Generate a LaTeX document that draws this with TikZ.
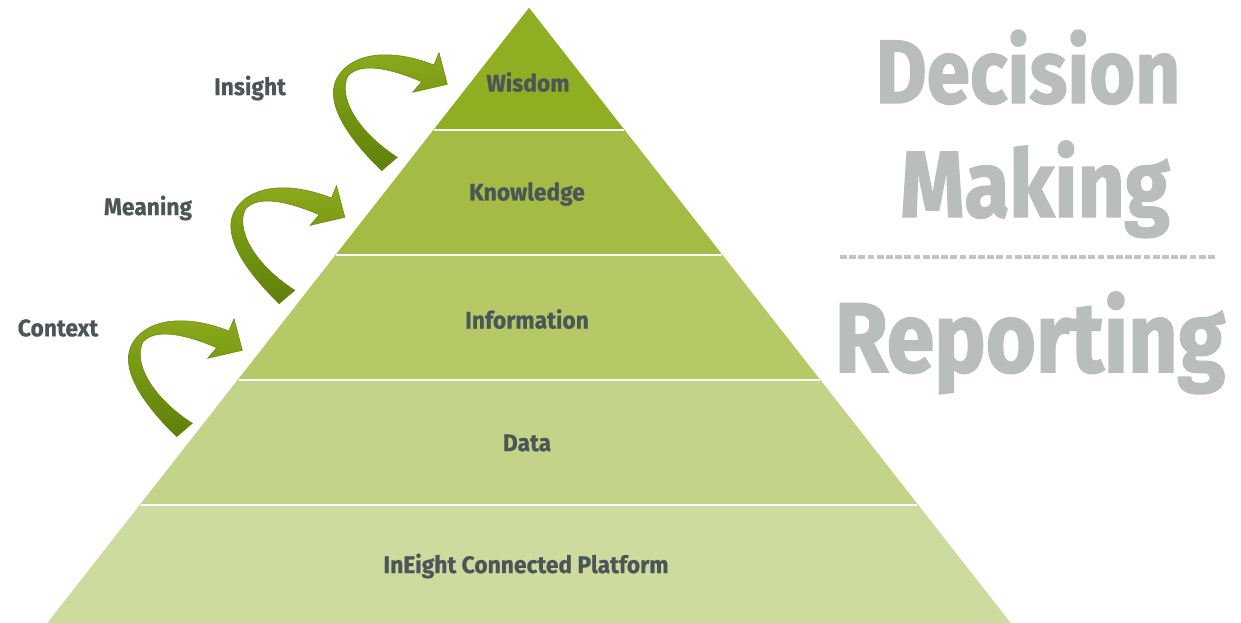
\documentclass[tikz,border=0pt]{standalone}
\usepackage{fontspec}
\setmainfont[FakeStretch=0.87]{Fira Sans}
\newfontfamily\layerfont[FakeStretch=0.95,FakeBold=0.6]{Fira Sans}
\newfontfamily\wordfont[FakeStretch=0.87,FakeBold=1.5]{Fira Sans}
\usepackage{xcolor}

\definecolor{wisdomgreen}{HTML}{8FAE21}
\definecolor{knowgreen}{HTML}{A4BC43}
\definecolor{infogreen}{HTML}{B5C967}
\definecolor{datagreen}{HTML}{C3D387}
\definecolor{basegreen}{HTML}{CEDB9F}
\definecolor{arrowlight}{HTML}{8DAC1C}
\definecolor{arrowdark}{HTML}{5F7F0B}
\definecolor{arrowedge}{HTML}{6B8A12}
\definecolor{labelgray}{HTML}{4C5557}
\definecolor{wordgray}{HTML}{B9BEBD}

\tikzset{
  band/.style={draw=white, line width=1.5pt},
  layer/.style={font=\layerfont\bfseries\fontsize{24}{24}\selectfont, text=labelgray, inner sep=0pt},
  bigword/.style={font=\wordfont\bfseries\fontsize{#1}{#1}\selectfont, text=wordgray, inner sep=0pt, anchor=base},
  turn/.style={top color=arrowlight, bottom color=arrowdark, draw=arrowedge, line width=0.6pt}
}

\begin{document}
\begin{tikzpicture}[x=1pt,y=-1pt]
        \useasboundingbox (0,0) rectangle (1241,622);
        % pyramid bands
        \fill[band,wisdomgreen] (529,9) -- (623.7,130) -- (434.3,130) -- cycle;
        \fill[band,knowgreen] (434.3,130) -- (623.7,130) -- (721.6,255) -- (336.4,255) -- cycle;
        \fill[band,infogreen] (336.4,255) -- (721.6,255) -- (819.5,380) -- (238.5,380) -- cycle;
        \fill[band,datagreen] (238.5,380) -- (819.5,380) -- (917.4,505) -- (140.6,505) -- cycle;
        \fill[band,basegreen] (140.6,505) -- (917.4,505) -- (1009,622) -- (49,622) -- cycle;
        \draw[band] (434.3,130) -- (623.7,130);
        \draw[band] (336.4,255) -- (721.6,255);
        \draw[band] (238.5,380) -- (819.5,380);
        \draw[band] (140.6,505) -- (917.4,505);
        \node[layer] (wisdom) at (528,82) {Wisdom};
        \node[layer] (knowledge) at (527,194) {Knowledge};
        \node[layer] (information) at (527,319) {Information};
        \node[layer] (data) at (527,443) {Data};
        \node[layer] (platform) at (526,566) {InEight Connected Platform};
        % curved arrows
        \foreach \dx/\dy in {0/0, -102.5/133, -205/266}{
          \begin{scope}[shift={(\dx,\dy)}]
            \path[turn] (381.7,170.7) .. controls (350,140) and (325,105) .. (336,80)
              .. controls (348,55) and (385,46) .. (434,65)
              -- (439,52.7) -- (447.3,84.3) -- (412.7,92.3) -- (421.7,81.7)
              .. controls (390,68) and (360,62) .. (348,76)
              .. controls (338,95) and (355,130) .. (397.3,157.3) -- cycle;
          \end{scope}
        }
        \node[layer] (insight) at (250,88) {Insight};
        \node[layer] (meaning) at (148,208) {Meaning};
        \node[layer] (context) at (58,328) {Context};
        % right side
        \node[bigword=90] (decision) at (1028,103) {Decision};
        \node[bigword=94] (making) at (1035,217) {Making};
        \node[bigword=99] (reporting) at (1030,372) {Reporting};
        \coordinate (sepL) at (840,257);
        \coordinate (sepR) at (1217,257);
        \draw[wordgray!90, line width=3.5pt, dash pattern=on 6.7pt off 2.5pt] (sepL) -- (sepR);
\end{tikzpicture}
\end{document}
